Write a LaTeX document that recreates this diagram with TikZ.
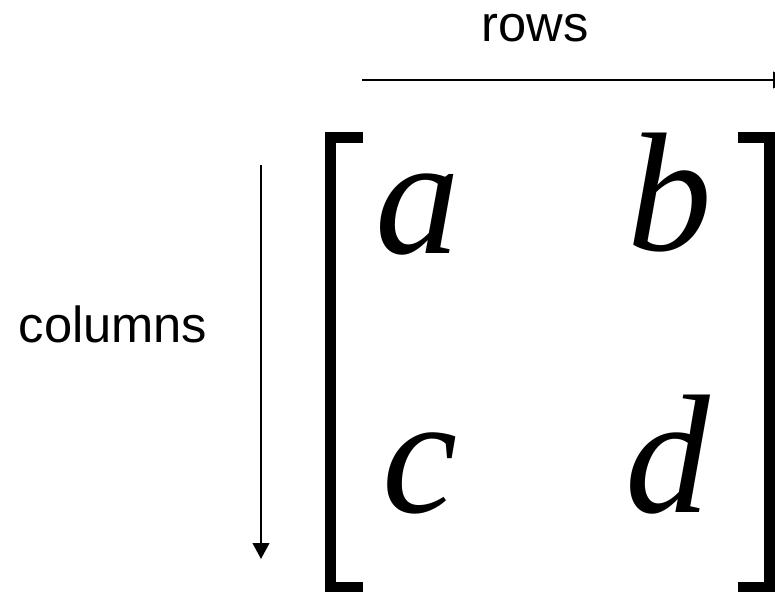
\documentclass[tikz,border=0pt]{standalone}
\usepackage{fontspec}
\setmainfont{Liberation Serif}
\newfontfamily\labelfont{Liberation Sans}
\usetikzlibrary{arrows.meta}

\begin{document}
\begin{tikzpicture}[x=0.75pt,y=-0.75pt,
  axislabel/.style={inner sep=0pt, anchor=base, font=\labelfont\fontsize{38}{38}\selectfont},
  entry/.style={inner sep=0pt, anchor=base, font=\fontsize{127}{127}\selectfont\itshape},
  axisarrow/.style={black, line width=1.5pt, -{Triangle[length=12pt,width=12.5pt]}},
  bracketline/.style={black, line width=8.5pt, line join=miter, line cap=butt}]
\useasboundingbox (0,0) rectangle (775,592);
% labels
\node[axislabel] (rowslabel) at (535,42) {rows};
\node[axislabel] (colslabel) at (113,342) {columns};
% arrows
\coordinate (rowsstart) at (362,80);
\coordinate (rowsend) at (789,80);
\coordinate (colsstart) at (261,165);
\coordinate (colsend) at (261,559);
\draw[axisarrow] (rowsstart) -- (rowsend);
\draw[axisarrow] (colsstart) -- (colsend);
% brackets
\draw[bracketline] (363,137.5) -- (330.5,137.5) -- (330.5,588) -- (363,588);
\draw[bracketline] (738,137.5) -- (769.5,137.5) -- (769.5,588) -- (738,588);
% entries
\node[entry] (a) at (418,253) {a};
\node[entry] (b) at (670,250) {b};
\node[entry] (c) at (420,512) {c};
\node[entry] (d) at (668,512) {d};
\end{tikzpicture}
\end{document}
